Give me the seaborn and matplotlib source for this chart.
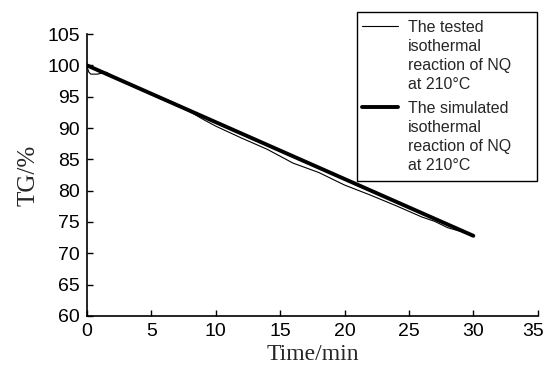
import matplotlib
matplotlib.use("Agg")
import matplotlib.pyplot as plt
from matplotlib.legend_handler import HandlerLine2D
from matplotlib.transforms import ScaledTranslation
import seaborn as sns
import pandas as pd

# Data
sim_time = [0, 30]
sim_tg = [100.0, 72.8]

test_time = [0, 0.15, 0.3, 0.8, 1.5, 2.5, 4, 6, 8, 9, 10, 12, 14, 15, 16,
             18, 20, 22, 24, 26, 27, 28, 29, 30]
test_tg = [99.8, 98.9, 98.6, 98.6, 98.9, 97.7, 96.3, 94.5, 92.6, 91.4, 90.3,
           88.4, 86.6, 85.5, 84.4, 82.9, 80.9, 79.3, 77.6, 75.8, 75.1, 74.1,
           73.5, 72.8]

x_ticks = [0, 5, 10, 15, 20, 25, 30, 35]
y_ticks = [60, 65, 70, 75, 80, 85, 90, 95, 100, 105]

label_tested = "The tested\nisothermal\nreaction of NQ\nat 210\u00b0C"
label_sim = "The simulated\nisothermal\nreaction of NQ\nat 210\u00b0C"

sns.set_style("ticks")
plt.rcParams['font.family'] = ['Liberation Sans', 'DejaVu Sans']

fig = plt.figure(figsize=(5.47, 3.70), dpi=100)
ax = fig.add_axes([0.159, 0.146, 0.824, 0.762])

df_test = pd.DataFrame({"t": test_time, "tg": test_tg})
df_sim = pd.DataFrame({"t": sim_time, "tg": sim_tg})

sns.lineplot(data=df_test, x="t", y="tg", ax=ax, color="black", linewidth=0.8,
             legend=False, estimator=None, sort=False, label=label_tested)
sns.lineplot(data=df_sim, x="t", y="tg", ax=ax, color="black", linewidth=2.8,
             legend=False, estimator=None, sort=False, label=label_sim)

ax.set_xlim(0, 35)
ax.set_ylim(60, 105)
ax.set_xticks(x_ticks)
ax.set_yticks(y_ticks)
ax.tick_params(direction="in", length=4, width=1, pad=5, labelsize=14,
               colors="black")
for s in ["top", "right"]:
    ax.spines[s].set_visible(False)
for s in ["left", "bottom"]:
    ax.spines[s].set_color("black")
    ax.spines[s].set_linewidth(1.2)

# last x tick label nudged left so it stays within the canvas
lastlab = ax.get_xticklabels()[-1]
lastlab.set_transform(lastlab.get_transform() +
                      ScaledTranslation(-5 / 100, 0, fig.dpi_scale_trans))

ax.set_xlabel("Time/min", family="Liberation Serif", fontsize=17, labelpad=3)
ax.set_ylabel("TG/%", family="Liberation Serif", fontsize=18, labelpad=6)

LEG_FS = 11.5
LINESP = 1.33
BORDERPAD = 0.5
XSHIFT = -2.2  # points: pull the handle toward the frame edge


class TopHandler(HandlerLine2D):
    """Place the legend line next to the first line of a multi-line label."""
    def create_artists(self, legend, orig_handle, xdescent, ydescent, width,
                       height, fontsize, trans):
        arts = super().create_artists(legend, orig_handle, xdescent, ydescent,
                                      width, height, fontsize, trans)
        shift = 1.5 * fontsize * LINESP * 0.96
        for a in arts:
            a.set_ydata([y + shift for y in a.get_ydata()])
            a.set_xdata([x + XSHIFT for x in a.get_xdata()])
        return arts


handles = ax.get_lines()[:2]
leg = fig.legend(handles, [label_tested, label_sim], loc="upper left",
                 bbox_to_anchor=(357 / 547, 0.5, 180 / 547, 0.968 - 0.5),
                 bbox_transform=fig.transFigure, mode="expand",
                 fontsize=LEG_FS, labelspacing=0.6, handlelength=2.25,
                 handletextpad=0.45, borderpad=BORDERPAD, fancybox=False,
                 framealpha=1, edgecolor="black", borderaxespad=0,
                 handler_map={h: TopHandler() for h in handles})
leg.get_frame().set_linewidth(1.0)
for t in leg.get_texts():
    t.set_linespacing(LINESP)

fig.savefig("out.png", dpi=100)
